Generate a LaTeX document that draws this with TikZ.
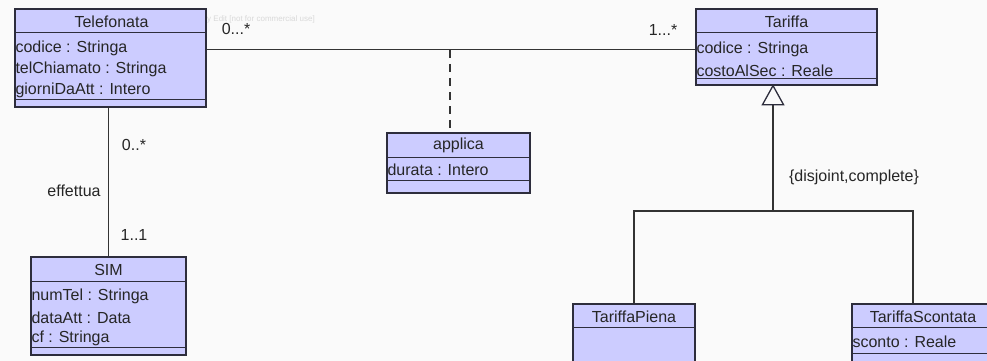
\documentclass[tikz,border=0pt]{standalone}
\usepackage{fontspec}
\setmainfont{Liberation Sans}
\usetikzlibrary{arrows.meta,calc}
\definecolor{clsfill}{RGB}{204,204,255}
\definecolor{clsline}{RGB}{45,45,60}
\definecolor{bgcol}{RGB}{250,250,250}
\tikzset{
  cls/.style={draw=clsline, fill=clsfill, line width=1.3pt, inner sep=0pt, rectangle},
  ttl/.style={font=\fontsize{16}{16}\selectfont, inner sep=0pt, text=black!85},
  attr/.style={font=\fontsize{16}{16}\selectfont, inner sep=0pt, anchor=west, text=black!85},
  lbl/.style={font=\fontsize{16}{16}\selectfont, inner sep=0pt, text=black!85},
  conn/.style={draw=black!80, line width=1.3pt},
  sepline/.style={draw=clsline, line width=1.3pt},
  wmark/.style={font=\fontsize{8}{8}\selectfont, inner sep=0pt, anchor=west, text=black!15},
}
\begin{document}
\begin{tikzpicture}[x=1pt,y=-1pt]
\useasboundingbox (0,0) rectangle (987,361);
\fill[bgcol] (0,0) rectangle (987,361);
\clip (0,0) rectangle (987,361);

% watermark
\node[wmark] (wm) at (207,19) {y Edit [not for commercial use]};

% Telefonata
\node[cls, minimum width=191pt, minimum height=98pt] (tel) at (110.5,58) {};
\draw[sepline] ($(tel.north west)+(0,24)$) -- ($(tel.north east)+(0,24)$);
\draw[sepline] ($(tel.north west)+(0,91)$) -- ($(tel.north east)+(0,91)$);
\node[ttl] (telT) at ($(tel.north)+(1,13)$) {Telefonata};
\node[attr] (telA1) at ($(tel.north west)+(1,40)$) {codice : Stringa};
\node[attr] (telA2) at ($(tel.north west)+(1,61)$) {telChiamato : Stringa};
\node[attr] (telA3) at ($(tel.north west)+(1,82)$) {giorniDaAtt : Intero};

% Tariffa
\node[cls, minimum width=181pt, minimum height=76pt] (tar) at (786.5,47) {};
\draw[sepline] ($(tar.north west)+(0,24)$) -- ($(tar.north east)+(0,24)$);
\draw[sepline] ($(tar.north west)+(0,70)$) -- ($(tar.north east)+(0,70)$);
\node[ttl] (tarT) at ($(tar.north)+(0,13)$) {Tariffa};
\node[attr] (tarA1) at ($(tar.north west)+(1,41)$) {codice : Stringa};
\node[attr] (tarA2) at ($(tar.north west)+(1,62)$) {costoAlSec : Reale};

% applica
\node[cls, minimum width=143pt, minimum height=60pt] (app) at (458.5,163) {};
\draw[sepline] ($(app.north west)+(0,25)$) -- ($(app.north east)+(0,25)$);
\draw[sepline] ($(app.north west)+(0,48)$) -- ($(app.north east)+(0,48)$);
\node[ttl] (appT) at ($(app.north)+(0,13)$) {applica};
\node[attr] (appA1) at ($(app.north west)+(1,37)$) {durata : Intero};

% SIM
\node[cls, minimum width=155pt, minimum height=98pt] (sim) at (108.5,306) {};
\draw[sepline] ($(sim.north west)+(0,25)$) -- ($(sim.north east)+(0,25)$);
\draw[sepline] ($(sim.north west)+(0,91)$) -- ($(sim.north east)+(0,91)$);
\node[ttl] (simT) at ($(sim.north)+(0,14)$) {SIM};
\node[attr] (simA1) at ($(sim.north west)+(1,40)$) {numTel : Stringa};
\node[attr] (simA2) at ($(sim.north west)+(1,61)$) {dataAtt : Data};
\node[attr] (simA3) at ($(sim.north west)+(1,82)$) {cf : Stringa};

% TariffaPiena
\node[cls, minimum width=122pt, minimum height=76pt] (pie) at (634,342) {};
\draw[sepline] ($(pie.north west)+(0,24)$) -- ($(pie.north east)+(0,24)$);
\node[ttl] (pieT) at ($(pie.north)+(0,13)$) {TariffaPiena};

% TariffaScontata
\node[cls, minimum width=142pt, minimum height=76pt] (sco) at (923,342) {};
\draw[sepline] ($(sco.north west)+(0,24)$) -- ($(sco.north east)+(0,24)$);
\draw[sepline] ($(sco.north west)+(0,50)$) -- ($(sco.north east)+(0,50)$);
\node[ttl] (scoT) at ($(sco.north)+(0,13)$) {TariffaScontata};
\node[attr] (scoA1) at ($(sco.north west)+(1,38)$) {sconto : Reale};

% association Telefonata -- Tariffa
\coordinate (assocL) at ($(tel.north east)+(0,41)$);
\draw[conn] (assocL) -- (assocL -| tar.west);
\coordinate (assocMid) at (450,50);
\draw[conn, dashed, dash pattern=on 8pt off 6pt] (assocMid) -- (assocMid |- app.north);
\node[lbl] (m1) at (236,29) {0...*};
\node[lbl] (m2) at (663,30) {1...*};

% association Telefonata -- SIM
\draw[conn] (sim.north |- tel.south) -- (sim.north);
\node[lbl] (m3) at (134,145) {0..*};
\node[lbl] (eff) at (74,191) {effettua};
\node[lbl] (m4) at (134,235) {1..1};

% generalization
\coordinate (genTop) at (773,86);
\coordinate (genJ) at (773,211);
\draw[conn] (genJ) -- (genTop |- tar.south) ;
\draw[draw=clsline, fill=bgcol, line width=1.3pt] (genTop |- tar.south) -- ++(-10.5,19) -- ++(21,0) -- cycle;
\coordinate (genL) at (genJ -| pie.north);
\coordinate (genR) at (913,211);
\draw[conn] (pie.north) -- (genL) -- (genR) -- (genR |- sco.north);
\node[lbl] (dc) at (854,177) {\{disjoint,complete\}};
\end{tikzpicture}
\end{document}
